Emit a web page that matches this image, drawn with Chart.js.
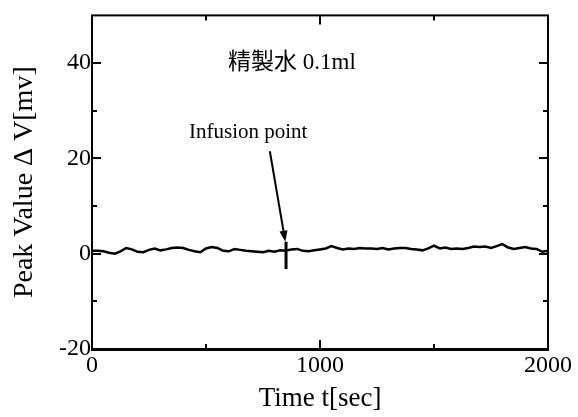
<!DOCTYPE html>
<html>
<head>
<meta charset="utf-8">
<script src="https://cdn.jsdelivr.net/npm/chart.js@4/dist/chart.umd.min.js"></script>
<style>
html,body{margin:0;padding:0;background:#fff;}
#wrap{width:578px;height:417px;}
</style>
</head>
<body>
<div id="wrap"><canvas id="c" width="578" height="417"></canvas></div>
<script>
// ---- data ----
const timeSec = [0,25,50,75,100,125,150,175,200,225,250,275,300,325,350,375,400,425,450,475,500,525,550,575,600,625,650,675,700,725,750,775,800,825,850,875,900,925,950,975,1000,1025,1050,1075,1100,1125,1150,1175,1200,1225,1250,1275,1300,1325,1350,1375,1400,1425,1450,1475,1500,1525,1550,1575,1600,1625,1650,1675,1700,1725,1750,1775,1800,1825,1850,1875,1900,1925,1950,1975,2000];
const peakValue = [0.6,0.6,0.5,0.2,0.0,0.5,1.2,0.9,0.4,0.3,0.8,1.1,0.7,0.9,1.2,1.3,1.2,0.8,0.5,0.3,1.1,1.4,1.2,0.6,0.5,1.0,0.8,0.6,0.5,0.4,0.3,0.6,0.4,0.7,0.6,0.9,1.0,0.6,0.5,0.7,0.9,1.1,1.6,1.2,0.9,1.1,1.0,1.2,1.1,1.1,1.0,1.2,0.9,1.1,1.2,1.2,1.0,0.9,0.7,1.1,1.7,1.1,1.3,1.0,1.1,1.0,1.2,1.5,1.4,1.5,1.2,1.6,2.0,1.3,1.0,1.2,1.4,1.1,1.0,0.4,0.6];
const infusionMarkX = [851, 851];
const infusionMarkY = [2.5, -3.2];
const arrowFrom = [780, 21.5];
const arrowTo = [848, 2.5];
const xMajorTicks = [0, 1000, 2000];
const xMinorTicks = [500, 1500];
const yMajorTicks = [-20, 0, 20, 40];
const yMinorTicks = [-10, 10, 30];
const noteLabel = {text: '精製水 0.1ml', x: 877, y: 40};
const arrowLabel = {text: 'Infusion point', x: 685, y: 25.5};
const xTitle = 'Time t[sec]';
const yTitle = 'Peak Value Δ V[mv]';

const serif = '"Liberation Serif", "Times New Roman", "Noto Sans CJK JP", serif';

const framePlugin = {
  id: 'frame',
  afterDatasetsDraw(chart) {
    const {ctx, chartArea: a, scales: {x, y}} = chart;
    ctx.save();
    ctx.strokeStyle = '#000';
    ctx.lineWidth = 2;
    ctx.strokeRect(a.left, a.top, a.right - a.left, a.bottom - a.top);
    ctx.beginPath(); ctx.moveTo(a.left - 1, a.bottom + 1); ctx.lineTo(a.right + 1, a.bottom + 1); ctx.stroke();
    const tick = (list, len) => {
      list.forEach(v => {
        const px = Math.round(x.getPixelForValue(v));
        ctx.beginPath(); ctx.moveTo(px, a.bottom); ctx.lineTo(px, a.bottom - len); ctx.stroke();
        ctx.beginPath(); ctx.moveTo(px, a.top); ctx.lineTo(px, a.top + len); ctx.stroke();
      });
    };
    tick(xMajorTicks, 9); tick(xMinorTicks, 5);
    const ytick = (list, len) => {
      list.forEach(v => {
        const py = Math.round(y.getPixelForValue(v));
        ctx.beginPath(); ctx.moveTo(a.left, py); ctx.lineTo(a.left + len, py); ctx.stroke();
        ctx.beginPath(); ctx.moveTo(a.right, py); ctx.lineTo(a.right - len, py); ctx.stroke();
      });
    };
    ytick(yMajorTicks, 9); ytick(yMinorTicks, 5);

    // arrow
    const x0 = x.getPixelForValue(arrowFrom[0]), y0 = y.getPixelForValue(arrowFrom[1]);
    const x1 = x.getPixelForValue(arrowTo[0]), y1 = y.getPixelForValue(arrowTo[1]);
    const ang = Math.atan2(y1 - y0, x1 - x0);
    const hl = 11, hw = 4;
    ctx.beginPath(); ctx.moveTo(x0, y0);
    ctx.lineTo(x1 - hl * Math.cos(ang), y1 - hl * Math.sin(ang)); ctx.stroke();
    ctx.beginPath();
    ctx.moveTo(x1, y1);
    ctx.lineTo(x1 - hl * Math.cos(ang) + hw * Math.sin(ang), y1 - hl * Math.sin(ang) - hw * Math.cos(ang));
    ctx.lineTo(x1 - hl * Math.cos(ang) - hw * Math.sin(ang), y1 - hl * Math.sin(ang) + hw * Math.cos(ang));
    ctx.closePath(); ctx.fillStyle = '#000'; ctx.fill();

    // labels
    ctx.fillStyle = '#000';
    ctx.textAlign = 'center'; ctx.textBaseline = 'middle';
    ctx.font = '23px ' + serif;
    ctx.fillText(noteLabel.text, x.getPixelForValue(noteLabel.x), y.getPixelForValue(noteLabel.y));
    ctx.font = '21px ' + serif;
    ctx.fillText(arrowLabel.text, x.getPixelForValue(arrowLabel.x), y.getPixelForValue(arrowLabel.y));
    ctx.restore();
  }
};

new Chart(document.getElementById('c'), {
  type: 'line',
  data: {
    datasets: [
      {
        data: timeSec.map((t, i) => ({x: t, y: peakValue[i]})),
        borderColor: '#000', borderWidth: 2.5, pointRadius: 0, tension: 0, fill: false
      },
      {
        data: infusionMarkX.map((t, i) => ({x: t, y: infusionMarkY[i]})),
        borderColor: '#000', borderWidth: 3, pointRadius: 0, tension: 0, fill: false
      }
    ]
  },
  options: {
    responsive: false,
    animation: false,
    devicePixelRatio: 1,
    layout: {padding: {left: 0, right: 30, top: 14, bottom: 0}},
    plugins: {legend: {display: false}, tooltip: {enabled: false}},
    scales: {
      x: {
        type: 'linear', min: 0, max: 2000,
        afterBuildTicks: s => { s.ticks = xMajorTicks.map(v => ({value: v})); },
        afterFit: s => { s.height = 68; },
        grid: {display: false, drawTicks: false},
        border: {display: false},
        ticks: {color: '#000', font: {family: serif, size: 24}, padding: 2, maxRotation: 0, autoSkip: false,
                callback: v => String(v)},
        title: {display: true, text: xTitle, color: '#000', font: {family: serif, size: 27}, padding: {top: 0, bottom: 2}}
      },
      y: {
        type: 'linear', min: -20, max: 50,
        afterBuildTicks: s => { s.ticks = yMajorTicks.map(v => ({value: v})); },
        afterFit: s => { s.width = 92; },
        grid: {display: false, drawTicks: false},
        border: {display: false},
        ticks: {color: '#000', font: {family: serif, size: 24}, padding: 1, autoSkip: false,
                callback: v => String(v)},
        title: {display: true, text: yTitle, color: '#000', font: {family: serif, size: 28}, padding: {top: 8, bottom: 0}}
      }
    }
  },
  plugins: [framePlugin]
});
</script>
</body>
</html>
